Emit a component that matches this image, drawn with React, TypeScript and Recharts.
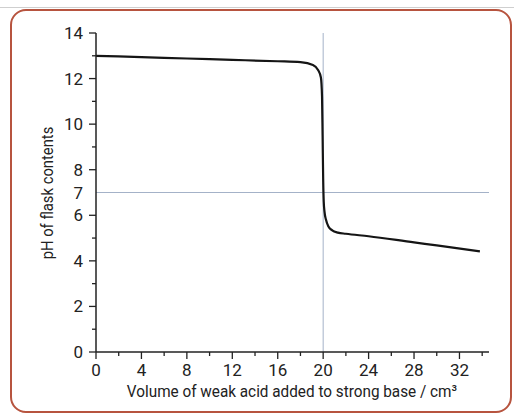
import { LineChart, Line, XAxis, YAxis, ReferenceLine } from "recharts";

// titration curve
const volume = [0, 4, 8, 12, 16, 18, 19.1, 19.55, 19.8, 19.9, 19.95, 20.0, 20.05, 20.12, 20.25, 20.45, 20.8, 21.3, 22, 24, 28, 30, 33.8];
const ph = [13.0, 12.94, 12.88, 12.82, 12.76, 12.72, 12.6, 12.38, 12.05, 11.2, 9.5, 7.6, 6.6, 6.15, 5.8, 5.52, 5.34, 5.24, 5.19, 5.08, 4.81, 4.68, 4.42];

const xTicks = [0, 2, 4, 6, 8, 10, 12, 14, 16, 18, 20, 22, 24, 26, 28, 30, 32, 34];
const yTicks = [0, 1, 2, 3, 4, 5, 6, 7, 8, 9, 10, 11, 12, 13, 14];
const yLabelled = [0, 2, 4, 6, 7, 8, 10, 12, 14];

const xTitle = "Volume of weak acid added to strong base / cm³";
const yTitle = "pH of flask contents";

const FONT = "'Roboto', 'Liberation Sans', sans-serif";
const INK = "#222";
const GUIDE = "#a4b2c8";

const data = volume.map((v, i) => ({ v, ph: ph[i] }));

function XTick(props: any) {
    const { x, y, payload } = props;
    const major = payload.value % 4 === 0;
    return (
        <g>
            <line x1={x} x2={x} y1={y} y2={y + (major ? 7 : 4)} stroke={INK} strokeWidth={1.3} />
            {major && (
                <text x={x} y={y + 24} textAnchor="middle" fill={INK} fontSize={17} fontFamily={FONT}>
                    {payload.value}
                </text>
            )}
        </g>
    );
}

function YTick(props: any) {
    const { x, y, payload } = props;
    const v = payload.value;
    const labelled = yLabelled.includes(v);
    const major = v % 2 === 0;
    return (
        <g>
            {v !== 7 && (
                <line x1={x - (major ? 7 : 4)} x2={x} y1={y} y2={y} stroke={INK} strokeWidth={1.3} />
            )}
            {labelled && (
                <text x={x - 13} y={y + 6} textAnchor="end" fill={INK} fontSize={17} fontFamily={FONT}>
                    {v}
                </text>
            )}
        </g>
    );
}

export default function App() {
    return (
        <div style={{ position: "absolute", left: 0, top: 0, width: 514, height: 417, background: "#fff", overflow: "hidden" }}>
            <div style={{ position: "absolute", left: 0, top: 7, width: 514, height: 1, background: "#cfcfcf" }} />
            <div
                style={{
                    position: "absolute",
                    left: 10,
                    top: 9,
                    width: 502,
                    height: 404,
                    boxSizing: "border-box",
                    border: "2px solid #b7543f",
                    borderRadius: 16,
                }}
            />
            <LineChart
                width={514}
                height={417}
                data={data}
                margin={{ top: 33, right: 25, bottom: 35, left: 16 }}
                style={{ position: "absolute", left: 0, top: 0 }}
            >
                <XAxis
                    type="number"
                    dataKey="v"
                    domain={[0, 34.6]}
                    ticks={xTicks}
                    interval={0}
                    tickSize={0}
                    tickMargin={0}
                    tickLine={false}
                    tick={<XTick />}
                    height={30}
                    axisLine={{ stroke: INK, strokeWidth: 1.5 }}
                />
                <YAxis
                    type="number"
                    domain={[0, 14]}
                    ticks={yTicks}
                    interval={0}
                    tickSize={0}
                    tickMargin={0}
                    tickLine={false}
                    tick={<YTick />}
                    width={80}
                    axisLine={{ stroke: INK, strokeWidth: 1.5 }}
                />
                <ReferenceLine x={20} stroke={GUIDE} strokeWidth={1} />
                <ReferenceLine y={7} stroke={GUIDE} strokeWidth={1} />
                <Line
                    type="monotone"
                    dataKey="ph"
                    stroke="#151515"
                    strokeWidth={2.2}
                    dot={false}
                    isAnimationActive={false}
                />
            </LineChart>
            <div
                style={{
                    position: "absolute",
                    left: 292,
                    top: 391,
                    transform: "translate(-50%, -50%) scaleX(0.9)",
                    fontFamily: FONT,
                    fontSize: 17,
                    color: INK,
                    whiteSpace: "nowrap",
                }}
            >
                {xTitle}
            </div>
            <div
                style={{
                    position: "absolute",
                    left: 47,
                    top: 193,
                    transform: "translate(-50%, -50%) rotate(-90deg) scaleX(0.87)",
                    fontFamily: FONT,
                    fontSize: 17,
                    color: INK,
                    whiteSpace: "nowrap",
                }}
            >
                {yTitle}
            </div>
        </div>
    );
}
